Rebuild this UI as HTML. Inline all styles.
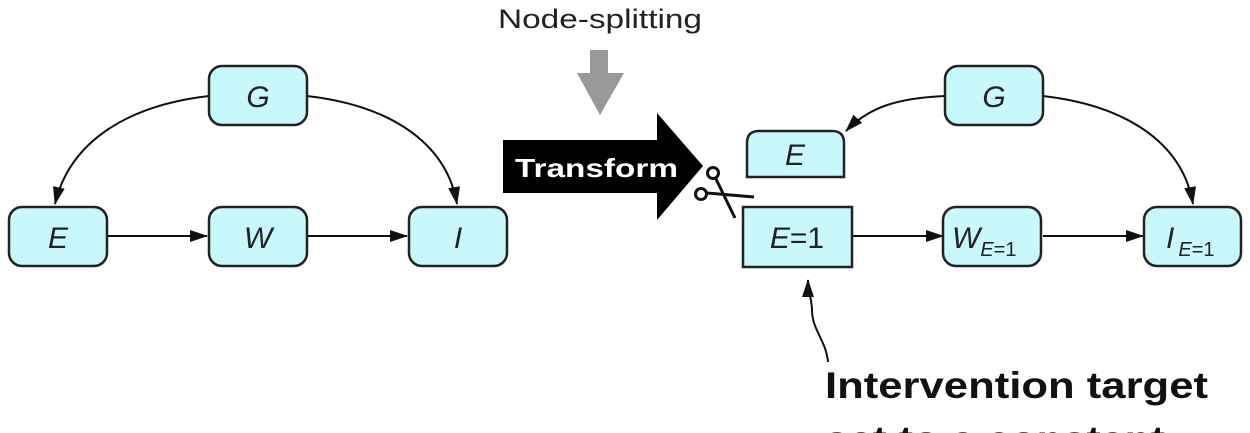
<!DOCTYPE html>
<html><head><meta charset="utf-8"><style>
html,body{margin:0;padding:0;background:#fff;width:1250px;height:433px;overflow:hidden}
svg{display:block}
.b{fill:#c9f8fc;stroke:#222;stroke-width:2.5}
.t{font-family:"Liberation Sans",sans-serif;font-size:30px;font-style:italic;fill:#222}
.n{font-family:"Liberation Sans",sans-serif;font-size:30px;fill:#222}
.s{font-family:"Liberation Sans",sans-serif;font-size:20px;font-style:italic;fill:#222}
.l{stroke:#111;stroke-width:2;fill:none}
</style></head><body>
<svg width="1250" height="433" viewBox="0 0 1250 433" xmlns="http://www.w3.org/2000/svg">
<defs><marker id="a" markerWidth="18" markerHeight="12" refX="17" refY="6" orient="auto" markerUnits="userSpaceOnUse"><path d="M0,0 L18,6 L0,12 Z" fill="#111"/></marker></defs>
<path class="l" d="M209,96 C130,105 70,140 55,204" marker-end="url(#a)"/>
<path class="l" d="M307,96 C386,105 446,140 457,204" marker-end="url(#a)"/>
<line class="l" x1="107" y1="236" x2="207" y2="236" marker-end="url(#a)"/>
<line class="l" x1="307" y1="236" x2="407" y2="236" marker-end="url(#a)"/>
<rect class="b" x="209" y="66" width="98" height="59" rx="13"/>
<text class="t" x="258" y="107" text-anchor="middle">G</text>
<rect class="b" x="9" y="207" width="98" height="59" rx="13"/>
<text class="t" x="58" y="248" text-anchor="middle">E</text>
<rect class="b" x="209" y="207" width="98" height="59" rx="13"/>
<text class="t" x="258" y="248" text-anchor="middle">W</text>
<rect class="b" x="409" y="207" width="98" height="59" rx="13"/>
<text class="t" x="458" y="248" text-anchor="middle">I</text>
<text x="498" y="28" font-family="Liberation Sans,sans-serif" font-size="27" fill="#222" textLength="204" lengthAdjust="spacingAndGlyphs">Node-splitting</text>
<path d="M590,50 H608 V73 H624 L600,115 L577,73 H590 Z" fill="#999"/>
<path d="M503,140 H657 V113 L703,166 L657,220 V193 H503 Z" fill="#000"/>
<text x="515" y="177" font-family="Liberation Sans,sans-serif" font-weight="bold" font-size="26" fill="#fff" textLength="163" lengthAdjust="spacingAndGlyphs">Transform</text>
<g stroke="#111" stroke-width="3" fill="none">
<circle cx="713" cy="173" r="5.5"/><circle cx="701" cy="194" r="5.5"/>
<line x1="716" y1="179" x2="735" y2="218"/><line x1="707" y1="193" x2="754" y2="197"/>
</g>
<path class="l" d="M945,96 C900,98 870,106 846,131" marker-end="url(#a)"/>
<path class="l" d="M1043,96 C1122,105 1182,140 1193,204" marker-end="url(#a)"/>
<line class="l" x1="852" y1="236" x2="943" y2="236" marker-end="url(#a)"/>
<line class="l" x1="1043" y1="236" x2="1143" y2="236" marker-end="url(#a)"/>
<path class="b" d="M747,177 V143 Q747,131 759,131 H832 Q844,131 844,143 V177 Z"/>
<text class="t" x="795" y="165" text-anchor="middle">E</text>
<rect class="b" x="743" y="207" width="109" height="60"/>
<text x="797" y="248" text-anchor="middle"><tspan class="t">E</tspan><tspan class="n">=1</tspan></text>
<rect class="b" x="945" y="66" width="98" height="59" rx="13"/>
<text class="t" x="994" y="107" text-anchor="middle">G</text>
<rect class="b" x="943" y="207" width="98" height="59" rx="13"/>
<text x="952" y="248"><tspan class="t">W</tspan><tspan class="s" dy="8">E</tspan><tspan class="n" style="font-size:20px">=1</tspan></text>
<rect class="b" x="1144" y="207" width="97" height="59" rx="13"/>
<text x="1166" y="248"><tspan class="t">I</tspan><tspan class="s" dx="4" dy="8">E</tspan><tspan class="n" style="font-size:20px">=1</tspan></text>
<path class="l" stroke-width="1.5" d="M828,362 C826,340 812,330 812,310 C812,300 808,292 808,280" marker-end="url(#a)"/>
<text x="825" y="398" font-family="Liberation Sans Narrow,Liberation Sans,sans-serif" font-weight="bold" font-size="37" fill="#111" textLength="383" lengthAdjust="spacingAndGlyphs">Intervention target</text>
<text x="825" y="452" font-family="Liberation Sans Narrow,Liberation Sans,sans-serif" font-weight="bold" font-size="37" fill="#111" textLength="340" lengthAdjust="spacingAndGlyphs">set to a constant</text>
</svg>
</body></html>
